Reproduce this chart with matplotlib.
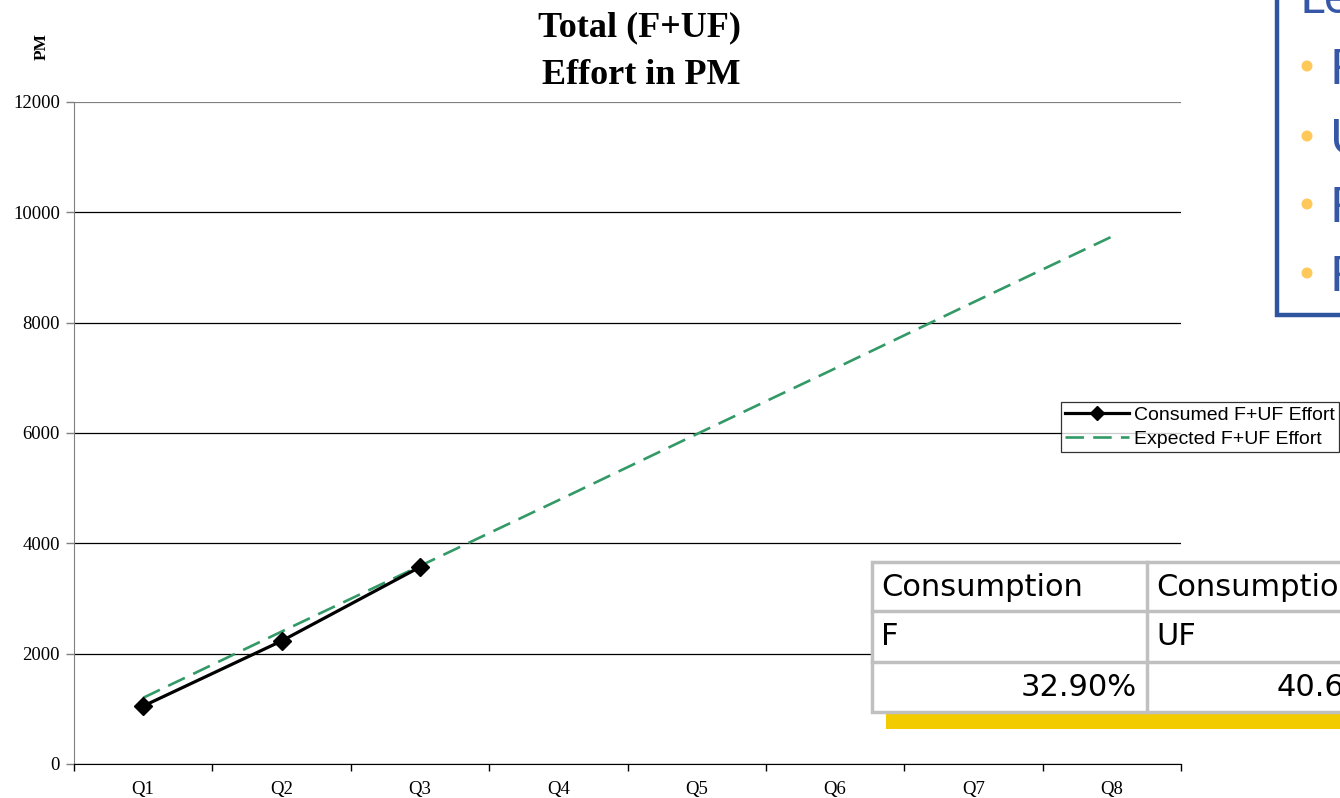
import numpy as np
import matplotlib.pyplot as plt
from matplotlib.patches import Rectangle, Circle

# quarterly effort in person-months
quarters = ['Q1', 'Q2', 'Q3', 'Q4', 'Q5', 'Q6', 'Q7', 'Q8']
consumed = [1050, 2230, 3570]
expected = [1200, 2400, 3590, 4780, 5980, 7170, 8370, 9560]

# consumption summary table
table_head = ['Consumption', 'Consumption']
table_kind = ['F', 'UF']
table_pct = ['32.90%', '40.6']

# slide bullets beside the chart
slide_heading = 'Le'
slide_bullets = ['F', 'U', 'F', 'F']

W, H = 1340, 798
fig = plt.figure(figsize=(W / 100, H / 100), dpi=100)
fig.patch.set_facecolor('white')

def fx(px):
    return px / W

def fy(py):
    return 1 - py / H

ax = fig.add_axes([fx(74), fy(764), fx(1181) - fx(74), fy(102) - fy(764)])

x = np.arange(len(quarters))
ax.plot(x[:len(consumed)], consumed, color='black', lw=2.3, marker='D',
        markersize=9, label='Consumed F+UF Effort', zorder=4)
ax.plot(x, expected, color='#339966', lw=1.9, dashes=(7, 3.5),
        label='Expected F+UF Effort', zorder=3)

ax.set_xlim(-0.5, len(quarters) - 0.5)
ax.set_ylim(0, 12000)
ax.set_yticks(np.arange(0, 12001, 2000))
ax.set_xticks(np.arange(-0.5, len(quarters)))
ax.set_xticklabels([])
ax.set_xticks(x, minor=True)
ax.set_xticklabels(quarters, minor=True)
ax.tick_params(axis='x', which='major', direction='out', length=5, width=1, color='black')
ax.tick_params(axis='x', which='minor', length=0, pad=12)
ax.tick_params(axis='y', direction='out', length=6, width=1, color='#808080', pad=4)
for lab in ax.get_xticklabels(minor=True) + ax.get_yticklabels():
    lab.set_fontfamily('Liberation Serif')
    lab.set_fontsize(13.5)

ax.yaxis.grid(True, color='black', lw=0.9)
ax.set_axisbelow(True)
ax.get_ygridlines()[-1].set_color('#808080')
ax.get_ygridlines()[-1].set_linewidth(1.6)
for s in ['top', 'right']:
    ax.spines[s].set_visible(False)
ax.spines['left'].set_color('#808080')
ax.spines['bottom'].set_color('black')

fig.text(fx(640), fy(28), 'Total (F+UF)', ha='center', va='center',
         family='Liberation Serif', weight='bold', fontsize=26)
fig.text(fx(641), fy(75), 'Effort in PM', ha='center', va='center',
         family='Liberation Serif', weight='bold', fontsize=26)
fig.text(fx(42), fy(46), 'PM', rotation=90, ha='center', va='center',
         family='Liberation Serif', weight='bold', fontsize=12.5)

leg = fig.legend(loc='upper left', bbox_to_anchor=(fx(1061), fy(402)),
                 prop={'family': 'Liberation Sans', 'size': 14},
                 handlelength=3.3, handletextpad=0.25, borderpad=0.22,
                 labelspacing=0.32, borderaxespad=0, frameon=True, fancybox=False)
leg.get_frame().set_edgecolor('black')
leg.get_frame().set_linewidth(0.9)
for h in leg.legend_handles:
    h.set_markersize(7)

# summary table in the lower right
tb = fig.add_axes([0, 0, 1, 1], zorder=5)
tb.set_xlim(0, W)
tb.set_ylim(H, 0)
tb.axis('off')
tb.add_patch(Rectangle((886, 714), W - 886, 15, color='#F2CB00', lw=0))
cols = [872, 1147, 1422]
rows = [562, 611, 662, 712]
tb.add_patch(Rectangle((cols[0], rows[0]), cols[2] - cols[0], rows[3] - rows[0],
                       facecolor='white', edgecolor='#C0C0C0', lw=2.5))
for r in rows[1:3]:
    tb.plot([cols[0], cols[2]], [r, r], color='#C0C0C0', lw=2.5)
tb.plot([cols[1], cols[1]], [rows[0], rows[3]], color='#C0C0C0', lw=2.5)
tfont = dict(family='DejaVu Sans', fontsize=22, color='black', va='center')
for i in range(2):
    tb.text(cols[i] + 9, (rows[0] + rows[1]) / 2 + 1, table_head[i], ha='left', **tfont)
    tb.text(cols[i] + 9, (rows[1] + rows[2]) / 2, table_kind[i], ha='left', **tfont)
tb.text(cols[1] - 10, (rows[2] + rows[3]) / 2, table_pct[0], ha='right', **tfont)
tb.text(1277, (rows[2] + rows[3]) / 2, table_pct[1], ha='left', **tfont)

# slide text box on the upper right
tb.add_patch(Rectangle((1277, -20), 120, 335, facecolor='white',
                       edgecolor='#2F55A0', lw=3.2))
blue = '#3557A6'
tb.text(1300, 13, slide_heading, ha='left', va='baseline',
        family='Lato', fontsize=35, color=blue)
for yb, t in zip([66, 136, 204, 273], slide_bullets):
    tb.add_patch(Circle((1307, yb), 5.5, color='#FFC85A', lw=0))
    tb.text(1330, yb, t, ha='left', va='center_baseline',
            family='Lato', fontsize=35, color=blue)

fig.savefig('out.png', dpi=100)
